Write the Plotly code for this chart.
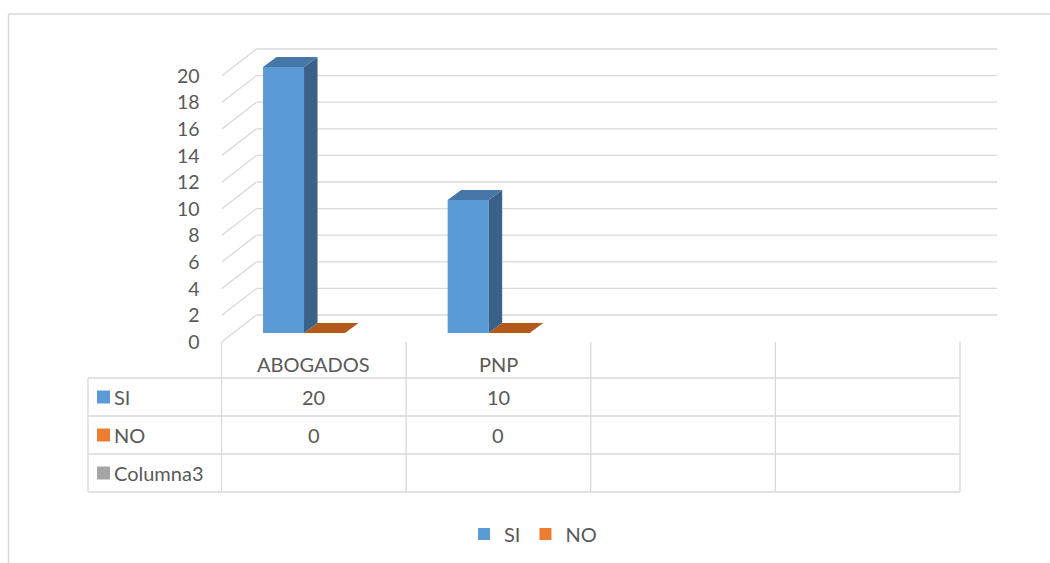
import plotly.graph_objects as go

# data
categories = ["ABOGADOS", "PNP", "", ""]
si_values = [20, 10, None, None]
no_values = [0, 0, None, None]
table_rows = ["SI", "NO", "Columna3"]
y_ticks = list(range(0, 21, 2))

W, H = 1050, 563
FONT = "Lato"
FS = 20
TXT = "#595959"
GRID = "#d9d9d9"

# pixel layout of the Excel style 3D box
X_FRONT, X_END = 221.5, 997
Y_FLOOR, Y_TOP = 342, 40
CAT_PX = (960 - X_FRONT) / len(categories)
UNIT_PX = 13.3
XMAX = (X_END - X_FRONT) / CAT_PX
YMAX = (Y_FLOOR - Y_TOP) / UNIT_PX

DX, DY = 35 / CAT_PX, 27 / UNIT_PX      # depth of the back wall
BW = 41 / CAT_PX                         # bar width
BASE = 9 / UNIT_PX                       # bars stand a bit behind the front edge
SDX, SDY = 13.5 / CAT_PX, 10 / UNIT_PX   # depth of a bar


def px(x):
    return x / W


def py(y):
    return 1 - y / H


series = [
    # name, values, offset in category, front, top, side
    ("NO", no_values, 0.558, "#ed7d31", "#b5591b", "#9c4c17"),
    ("SI", si_values, 0.336, "#5b9bd5", "#4677a8", "#3a6288"),
]

fig = go.Figure()

# front faces of the columns
for name, vals, off, front, top, side in series[::-1]:
    xs = [i + off for i, v in enumerate(vals) if v is not None]
    ys = [v for v in vals if v is not None]
    fig.add_trace(go.Bar(x=xs, y=ys, base=BASE, width=BW, name=name,
                         marker=dict(color=front, line=dict(width=0)),
                         hoverinfo="skip"))

# top and side faces
for name, vals, off, front, top, side in series:
    for i, v in enumerate(vals):
        if v is None:
            continue
        x0 = i + off - BW / 2
        x1 = i + off + BW / 2
        yt = BASE + v
        if v > 0:
            fig.add_trace(go.Scatter(
                x=[x1, x1 + SDX, x1 + SDX, x1, x1],
                y=[BASE, BASE + SDY, yt + SDY, yt, BASE],
                mode="lines", fill="toself", fillcolor=side,
                line=dict(width=0, color=side), showlegend=False, hoverinfo="skip"))
        fig.add_trace(go.Scatter(
            x=[x0, x0 + SDX, x1 + SDX, x1, x0],
            y=[yt, yt + SDY, yt + SDY, yt, yt],
            mode="lines", fill="toself", fillcolor=top,
            line=dict(width=0, color=top), showlegend=False, hoverinfo="skip"))

shapes = []
# back wall gridlines with the slanted side wall
for v in y_ticks:
    shapes.append(dict(type="line", xref="x", yref="y", x0=0, y0=v, x1=DX, y1=v + DY,
                       line=dict(color=GRID, width=1.3), layer="below"))
    shapes.append(dict(type="line", xref="x", yref="y", x0=DX, y0=v + DY, x1=XMAX, y1=v + DY,
                       line=dict(color=GRID, width=1.3), layer="below"))

# data table
TBL_LEFT = 88
ROW_TOP = 378
ROW_H = 38
row_lines = [ROW_TOP + k * ROW_H for k in range(len(table_rows) + 1)]
tbl_bottom = row_lines[-1]
tbl_right = X_FRONT + len(categories) * CAT_PX
for j in range(len(categories) + 1):
    xx = X_FRONT + j * CAT_PX
    shapes.append(dict(type="line", xref="paper", yref="paper", x0=px(xx), x1=px(xx),
                       y0=py(Y_FLOOR), y1=py(tbl_bottom), line=dict(color=GRID, width=1.3)))
shapes.append(dict(type="line", xref="paper", yref="paper", x0=px(TBL_LEFT), x1=px(TBL_LEFT),
                   y0=py(ROW_TOP), y1=py(tbl_bottom), line=dict(color=GRID, width=1.3)))
for yy in row_lines:
    shapes.append(dict(type="line", xref="paper", yref="paper", x0=px(TBL_LEFT), x1=px(tbl_right),
                       y0=py(yy), y1=py(yy), line=dict(color=GRID, width=1.3)))

key_colors = ["#5b9bd5", "#ed7d31", "#a5a5a5"]
row_values = [si_values, no_values, [None] * len(categories)]
annotations = []
for k, (label, col, vals) in enumerate(zip(table_rows, key_colors, row_values)):
    yc = ROW_TOP + ROW_H * (k + 0.5)
    shapes.append(dict(type="rect", xref="paper", yref="paper",
                       x0=px(97), x1=px(110), y0=py(yc - 6.5), y1=py(yc + 6.5),
                       fillcolor=col, line=dict(width=0)))
    annotations.append(dict(text=label, xref="paper", yref="paper", x=px(112), y=py(yc),
                            xanchor="left", yanchor="middle", showarrow=False,
                            font=dict(family=FONT, size=FS, color=TXT)))
    for i, v in enumerate(vals):
        if v is None:
            continue
        annotations.append(dict(text=str(v), xref="x", yref="paper", x=i + 0.5, y=py(yc),
                                xanchor="center", yanchor="middle", showarrow=False,
                                font=dict(family=FONT, size=FS, color=TXT)))

for i, c in enumerate(categories):
    if c:
        annotations.append(dict(text=c, xref="x", yref="paper", x=i + 0.5, y=py(364),
                                xanchor="center", yanchor="middle", showarrow=False,
                                font=dict(family=FONT, size=FS, color=TXT)))

# chart border
shapes.append(dict(type="line", xref="paper", yref="paper", x0=px(8.5), x1=1.0,
                   y0=py(14), y1=py(14), line=dict(color=GRID, width=1.5)))
shapes.append(dict(type="line", xref="paper", yref="paper", x0=px(8.5), x1=px(8.5),
                   y0=py(14), y1=0, line=dict(color=GRID, width=1.5)))

fig.update_layout(
    width=W, height=H,
    margin=dict(l=0, r=0, t=0, b=0, autoexpand=False),
    paper_bgcolor="white", plot_bgcolor="rgba(0,0,0,0)",
    barmode="overlay",
    showlegend=True,
    legend=dict(orientation="h", x=px(533), xanchor="center", y=py(534), yanchor="middle",
                font=dict(family=FONT, size=FS, color=TXT), traceorder="normal",
                itemwidth=30),
    shapes=shapes,
    annotations=annotations,
    xaxis=dict(domain=[px(X_FRONT), px(X_END)], range=[0, XMAX], showgrid=False,
               zeroline=False, showline=False, showticklabels=False, fixedrange=True,
               automargin=False),
    yaxis=dict(domain=[py(Y_FLOOR), py(Y_TOP)], range=[0, YMAX], tickvals=y_ticks,
               showgrid=False, zeroline=False, showline=False, ticklabelstandoff=21,
               tickfont=dict(family=FONT, size=19.5, color=TXT), fixedrange=True,
               automargin=False),
)

fig.write_html(
    "out.html",
    config={"displayModeBar": False},
    post_script=(
        "document.body.style.margin='0';"
        "document.body.style.overflow='hidden';"
        "document.documentElement.style.overflow='hidden';"
    ),
)
